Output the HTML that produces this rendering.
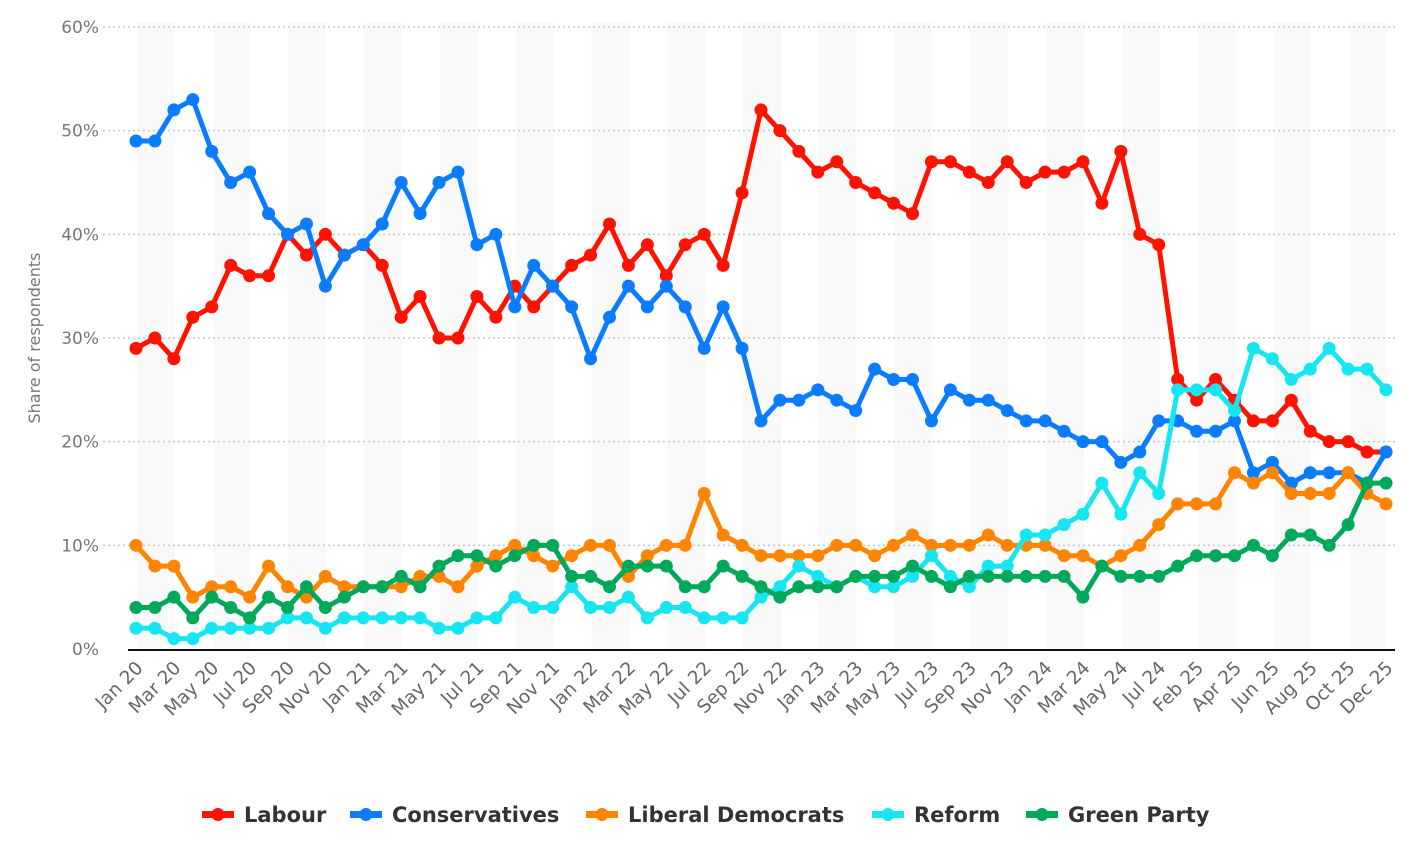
<!DOCTYPE html>
<html><head><meta charset="utf-8"><style>
body{margin:0;background:#fff;width:1422px;height:858px;overflow:hidden;font-family:"DejaVu Sans","Liberation Sans",sans-serif}
svg{position:absolute;left:0;top:0}
</style></head><body>
<svg id="chart" width="1422" height="858" viewBox="0 0 1422 858"></svg>
<script>
const months=["Jan 20","Mar 20","May 20","Jul 20","Sep 20","Nov 20","Jan 21","Mar 21","May 21","Jul 21","Sep 21","Nov 21","Jan 22","Mar 22","May 22","Jul 22","Sep 22","Nov 22","Jan 23","Mar 23","May 23","Jul 23","Sep 23","Nov 23","Jan 24","Mar 24","May 24","Jul 24","Feb 25","Apr 25","Jun 25","Aug 25","Oct 25","Dec 25"];
const yTicks=[0,10,20,30,40,50,60];
const labour=[29,30,28,32,33,37,36,36,40,38,40,38,39,37,32,34,30,30,34,32,35,33,35,37,38,41,37,39,36,39,40,37,44,52,50,48,46,47,45,44,43,42,47,47,46,45,47,45,46,46,47,43,48,40,39,26,24,26,24,22,22,24,21,20,20,19,19];
const conservatives=[49,49,52,53,48,45,46,42,40,41,35,38,39,41,45,42,45,46,39,40,33,37,35,33,28,32,35,33,35,33,29,33,29,22,24,24,25,24,23,27,26,26,22,25,24,24,23,22,22,21,20,20,18,19,22,22,21,21,22,17,18,16,17,17,17,16,19];
const libdems=[10,8,8,5,6,6,5,8,6,5,7,6,6,6,6,7,7,6,8,9,10,9,8,9,10,10,7,9,10,10,15,11,10,9,9,9,9,10,10,9,10,11,10,10,10,11,10,10,10,9,9,8,9,10,12,14,14,14,17,16,17,15,15,15,17,15,14];
const reform=[2,2,1,1,2,2,2,2,3,3,2,3,3,3,3,3,2,2,3,3,5,4,4,6,4,4,5,3,4,4,3,3,3,5,6,8,7,6,7,6,6,7,9,7,6,8,8,11,11,12,13,16,13,17,15,25,25,25,23,29,28,26,27,29,27,27,25];
const green=[4,4,5,3,5,4,3,5,4,6,4,5,6,6,7,6,8,9,9,8,9,10,10,7,7,6,8,8,8,6,6,8,7,6,5,6,6,6,7,7,7,8,7,6,7,7,7,7,7,7,5,8,7,7,7,8,9,9,9,10,9,11,11,10,12,16,16];
const seriesNames=["Labour","Conservatives","Liberal Democrats","Reform","Green Party"];
const seriesColors=["#ff1200","#0a7cff","#ff8400","#17e6f2","#00a85a"];
const seriesData=[labour,conservatives,libdems,reform,green];

const NS="http://www.w3.org/2000/svg";
const svg=document.getElementById('chart');
const X0=136,X1=1386,Y0=649,Y60=27,N=labour.length;
const xs=i=>X0+(X1-X0)*i/(N-1);
const ys=v=>Y0-(Y0-Y60)*v/60;
function mk(t,a,p){const e=document.createElementNS(NS,t);for(const k in a)e.setAttribute(k,a[k]);(p||svg).appendChild(e);return e;}

const step=(X1-X0)/(N-1);
const bands=mk('g',{});


for(let i=0;i<N;i+=4){mk('rect',{x:xs(i)+1,y:Y60-5,width:Math.min(step*2,1395-xs(i)-1),height:Y0-Y60+5,fill:'#f9f9f9'},bands);}

const grid=mk('g',{});


yTicks.forEach(v=>{
  if(v>0){const l=mk('line',{x1:103,x2:1395,y1:ys(v),y2:ys(v),stroke:'#c8c8c8','stroke-width':1.5,'stroke-dasharray':'2,3'},grid);
  
  }
  const t=mk('text',{x:99,y:ys(v)+6,'text-anchor':'end','font-size':17,fill:'#777'},grid);
  t.textContent=v+'%';
  
  
});
const yt=mk('text',{x:0,y:0,transform:'translate(40,338) rotate(-90)','text-anchor':'middle','font-size':16,fill:'#777'});
yt.textContent='Share of respondents';



const ax=mk('line',{x1:128,x2:1395,y1:Y0+1,y2:Y0+1,stroke:'#111','stroke-width':2});


months.forEach((m,k)=>{
  const x=xs(k*2);
  const t=mk('text',{x:0,y:0,transform:`translate(${x+8},${Y0+20}) rotate(-45)`,'text-anchor':'end','font-size':18.5,fill:'#666'});
  t.textContent=m;
  
  
});

seriesData.forEach((d,s)=>{
  const g=mk('g',{});
  
  
  mk('polyline',{points:d.map((v,i)=>xs(i)+','+ys(v)).join(' '),fill:'none',stroke:seriesColors[s],'stroke-width':5,'stroke-linejoin':'round'},g);
  d.forEach((v,i)=>{
    const c=mk('circle',{cx:xs(i),cy:ys(v),r:6.5,fill:seriesColors[s]},g);
    
    
  });
});

const legX=[202,350,586,872,1026];
const lg=mk('g',{});


seriesNames.forEach((n,s)=>{
  const e=mk('g',{},lg);
  
  
  const x=legX[s];
  mk('rect',{x:x,y:811,width:32,height:7,fill:seriesColors[s]},e);
  mk('circle',{cx:x+16,cy:814.5,r:6.5,fill:seriesColors[s]},e);
  const t=mk('text',{x:x+42,y:822,'font-size':21,'font-weight':'bold',fill:'#333'},e);
  t.textContent=n;
});
</script>
</body></html>
